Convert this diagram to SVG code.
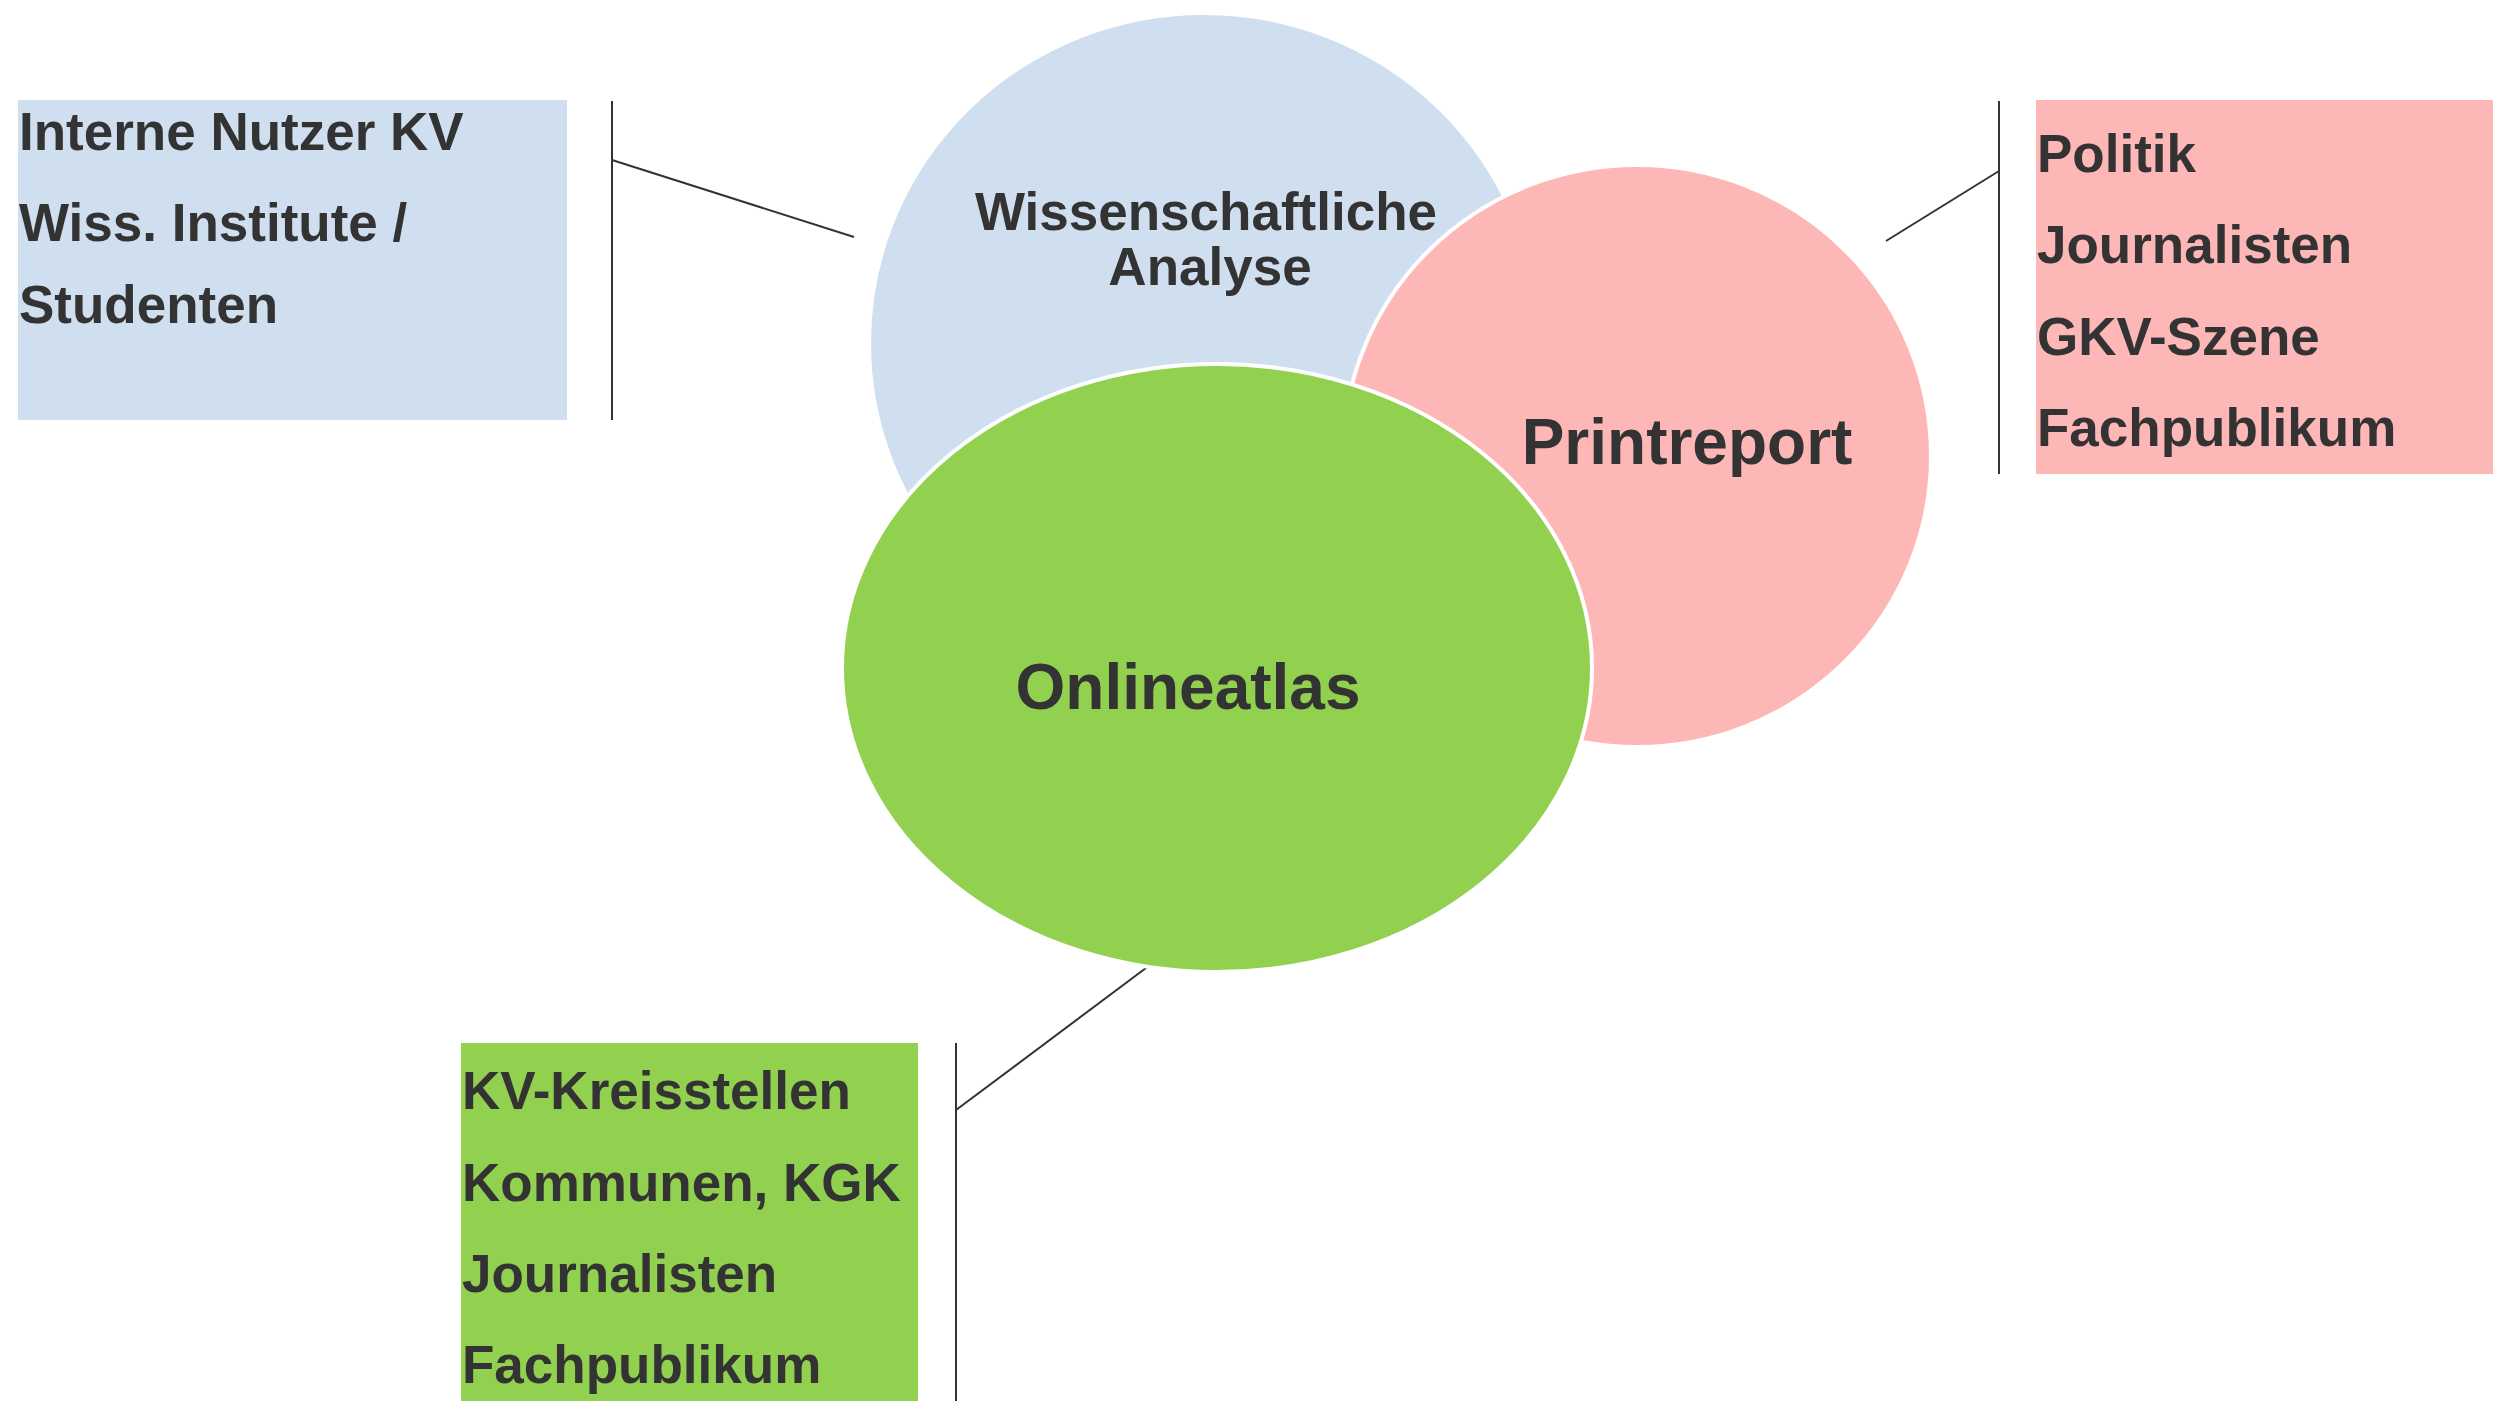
<svg xmlns="http://www.w3.org/2000/svg" width="2504" height="1401" viewBox="0 0 2504 1401">
<style>
.t{font-family:"Liberation Sans",Arial,sans-serif;font-weight:bold;fill:#333333}
.lst{font-size:53px}
.big{font-size:64px}
.mid{font-size:53px}
.ln{stroke:#333333;stroke-width:2;fill:none}
.blob{stroke:#ffffff;stroke-width:4}
</style>
<rect width="2504" height="1401" fill="#ffffff"/>
<g id="box-blue">
<rect x="18" y="100" width="549" height="320" fill="#D0DFEF"/>
<text class="t lst" x="19" y="150">Interne Nutzer KV</text>
<text class="t lst" x="19" y="241">Wiss. Institute /</text>
<text class="t lst" x="19" y="323">Studenten</text>
</g>
<g id="box-pink">
<rect x="2036" y="100" width="457" height="374" fill="#FEB7B7"/>
<text class="t lst" x="2037" y="172">Politik</text>
<text class="t lst" x="2037" y="263">Journalisten</text>
<text class="t lst" x="2037" y="355">GKV-Szene</text>
<text class="t lst" x="2037" y="446">Fachpublikum</text>
</g>
<g id="box-green">
<rect x="461" y="1043" width="457" height="358" fill="#92D050"/>
<text class="t lst" x="462" y="1109">KV-Kreisstellen</text>
<text class="t lst" x="462" y="1201">Kommunen, KGK</text>
<text class="t lst" x="462" y="1292">Journalisten</text>
<text class="t lst" x="462" y="1383">Fachpublikum</text>
</g>
<g id="connectors">
<line class="ln" x1="612" y1="101" x2="612" y2="420"/>
<line class="ln" x1="612" y1="160" x2="854" y2="237"/>
<line class="ln" x1="1999" y1="101" x2="1999" y2="474"/>
<line class="ln" x1="1886" y1="241" x2="1999" y2="171"/>
<line class="ln" x1="956" y1="1043" x2="956" y2="1401"/>
<line class="ln" x1="956" y1="1110" x2="1150" y2="965"/>
</g>
<g id="node-analyse">
<ellipse class="blob" cx="1204" cy="343" rx="335" ry="330" fill="#D0DFEF"/>
<text class="t mid" x="1206" y="230" text-anchor="middle">Wissenschaftliche</text>
<text class="t mid" x="1210" y="285" text-anchor="middle">Analyse</text>
</g>
<g id="node-printreport">
<ellipse class="blob" cx="1637" cy="456" rx="294" ry="291" fill="#FEB7B7"/>
<text class="t big" x="1687" y="464" text-anchor="middle">Printreport</text>
</g>
<g id="node-onlineatlas">
<ellipse class="blob" cx="1217" cy="668" rx="375" ry="304" fill="#92D050"/>
<text class="t big" x="1188" y="709" text-anchor="middle">Onlineatlas</text>
</g>
</svg>
